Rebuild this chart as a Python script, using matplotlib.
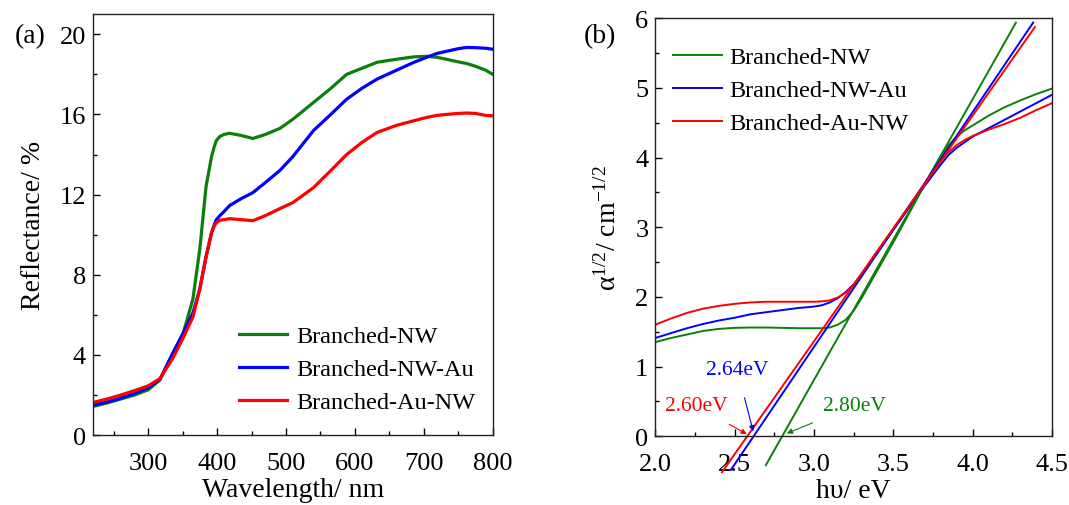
import matplotlib
matplotlib.use('Agg')
import matplotlib.pyplot as plt
from matplotlib.ticker import MultipleLocator

plt.rcParams['font.family'] = ['Liberation Serif', 'DejaVu Serif']
plt.rcParams['mathtext.fontset'] = 'custom'
plt.rcParams['mathtext.rm'] = 'Liberation Serif'
plt.rcParams['mathtext.it'] = 'Liberation Serif:italic'

labels = ['Branched-NW', 'Branched-NW-Au', 'Branched-Au-NW']
colors = ['#0a800a', '#0000ff', '#ff0000']

# (a) reflectance spectra
wl = [220, 240, 260, 280, 300, 317, 336, 351, 365, 375, 384, 392, 396, 399, 404, 410,
      418, 435, 452, 470, 491, 510, 540, 565, 588, 610, 632, 660, 685, 704, 719, 733,
      750, 762, 775, 790, 800]
refl_nw = [1.43, 1.6, 1.8, 2.0, 2.26, 2.75, 4.1, 5.1, 6.8, 9.3, 12.4, 13.9, 14.4,
           14.7, 14.9, 15.0, 15.06, 14.95, 14.8, 15.0, 15.3, 15.76, 16.6, 17.3, 18.0,
           18.3, 18.6, 18.75, 18.87, 18.9, 18.85, 18.75, 18.62, 18.54, 18.4, 18.2, 18.0]
refl_nw_au = [1.5, 1.65, 1.85, 2.08, 2.36, 2.78, 4.1, 5.1, 6.1, 7.3, 8.9, 10.1, 10.5,
              10.75, 10.95, 11.15, 11.45, 11.8, 12.1, 12.6, 13.2, 13.9, 15.2, 16.0,
              16.76, 17.3, 17.76, 18.2, 18.59, 18.85, 19.04, 19.15, 19.28, 19.34,
              19.33, 19.3, 19.25]
refl_au_nw = [1.63, 1.8, 2.0, 2.22, 2.46, 2.82, 3.85, 4.87, 5.9, 7.3, 8.9, 10.1, 10.45,
              10.6, 10.72, 10.75, 10.8, 10.75, 10.7, 10.95, 11.3, 11.6, 12.35, 13.2,
              14.0, 14.6, 15.1, 15.45, 15.68, 15.85, 15.95, 16.0, 16.05, 16.07, 16.05,
              15.95, 15.93]

# (b) Tauc plot
ev = [2.0, 2.1, 2.2, 2.3, 2.4, 2.5, 2.6, 2.7, 2.8, 2.9, 3.0, 3.05, 3.1, 3.15, 3.2,
      3.25, 3.3, 3.4, 3.5, 3.6, 3.7, 3.8, 3.85, 3.9, 3.95, 4.0, 4.1, 4.2, 4.3, 4.4, 4.5]
tauc_nw = [1.35, 1.41, 1.46, 1.51, 1.54, 1.555, 1.56, 1.56, 1.555, 1.55, 1.55, 1.55,
           1.56, 1.6, 1.67, 1.8, 1.98, 2.38, 2.78, 3.2, 3.62, 4.02, 4.18, 4.3, 4.39,
           4.46, 4.6, 4.72, 4.82, 4.91, 4.99]
tauc_nw_au = [1.41, 1.48, 1.55, 1.61, 1.66, 1.7, 1.75, 1.78, 1.81, 1.84, 1.86, 1.88,
              1.92, 1.98, 2.07, 2.18, 2.32, 2.63, 2.96, 3.28, 3.6, 3.9, 4.04, 4.14,
              4.22, 4.3, 4.42, 4.54, 4.66, 4.78, 4.9]
tauc_au_nw = [1.6, 1.69, 1.77, 1.83, 1.87, 1.9, 1.92, 1.93, 1.93, 1.93, 1.93, 1.935,
              1.95, 1.99, 2.06, 2.17, 2.33, 2.66, 2.98, 3.3, 3.62, 3.95, 4.08, 4.18,
              4.25, 4.31, 4.4, 4.48, 4.57, 4.68, 4.78]

# linear fits: (start eV, end eV, slope); band gaps give the x-intercepts
gaps = [2.80, 2.62, 2.58]
gap_text = ['2.80eV', '2.64eV', '2.60eV']
fit_start = [2.697, 2.476, 2.42]
fit_end = [4.273, 4.382, 4.393]
fit_slope = [4.03, 3.37, 3.24]

fig = plt.figure(figsize=(10.69, 5.06), dpi=100)
ax1 = fig.add_axes([0.087, 0.138, 0.374, 0.832])
ax2 = fig.add_axes([0.613, 0.136, 0.371, 0.826])

for y, lab, c in zip([refl_nw, refl_nw_au, refl_au_nw], labels, colors):
    ax1.plot(wl, y, color=c, lw=2.3, label=lab)
ax1.set_xlim(220, 800)
ax1.set_ylim(0, 21)
ax1.xaxis.set_major_locator(MultipleLocator(100))
ax1.xaxis.set_minor_locator(MultipleLocator(50))
ax1.yaxis.set_major_locator(MultipleLocator(4))
ax1.yaxis.set_minor_locator(MultipleLocator(2))
ax1.set_xlabel('Wavelength/ nm', fontsize=20, labelpad=2)
ax1.set_ylabel('Reflectance/ %', fontsize=20, labelpad=10)
ax1.legend(loc='lower right', bbox_to_anchor=(1.01, 0.0), frameon=False, fontsize=17.5,
           handlelength=2.0, handletextpad=0.35, labelspacing=0.45)
fig.text(0.028, 0.928, '(a)', fontsize=20, ha='center', va='center')

for y, lab, c in zip([tauc_nw, tauc_nw_au, tauc_au_nw], labels, colors):
    ax2.plot(ev, y, color=c, lw=1.4, label=lab)
for g, s, e, k, c in zip(gaps, fit_start, fit_end, fit_slope, colors):
    ax2.plot([s, e], [k * (s - g), k * (e - g)], color=c, lw=1.4, clip_on=False)
ax2.set_xlim(2.0, 4.5)
ax2.set_ylim(0, 6)
ax2.xaxis.set_major_locator(MultipleLocator(0.5))
ax2.xaxis.set_minor_locator(MultipleLocator(0.25))
ax2.yaxis.set_major_locator(MultipleLocator(1))
ax2.yaxis.set_minor_locator(MultipleLocator(0.5))
ax2.xaxis.set_major_formatter(lambda v, p: f'{v:.1f}')
ax2.set_xlabel('h\u03c5/ eV', fontsize=20, labelpad=2)
ax2.set_ylabel(r'$\mathrm{\alpha}^{1/2}$/ cm$^{-1/2}$', fontsize=20, labelpad=10)
ax2.legend(loc='upper left', bbox_to_anchor=(-0.01, 0.985), frameon=False, fontsize=17.5,
           handlelength=2.0, handletextpad=0.3, labelspacing=0.45)
fig.text(0.561, 0.928, '(b)', fontsize=20, ha='center', va='center')

ax2.annotate(gap_text[1], xy=(2.617, 0.07), xytext=(2.516, 0.96), color=colors[1],
             fontsize=15.5, ha='center', va='center',
             arrowprops=dict(arrowstyle='-|>', color=colors[1], lw=0.8,
                             shrinkA=12, shrinkB=0, mutation_scale=8))
ax2.annotate(gap_text[2], xy=(2.577, 0.03), xytext=(2.258, 0.435), color=colors[2],
             fontsize=15.5, ha='center', va='center',
             arrowprops=dict(arrowstyle='-|>', color=colors[2], lw=0.8,
                             shrinkA=9, shrinkB=0, mutation_scale=8))
ax2.annotate(gap_text[0], xy=(2.829, 0.04), xytext=(3.253, 0.435), color=colors[0],
             fontsize=15.5, ha='center', va='center',
             arrowprops=dict(arrowstyle='-|>', color=colors[0], lw=0.8,
                             shrinkA=9, shrinkB=0, mutation_scale=8))

for ax in (ax1, ax2):
    ax.tick_params(which='both', direction='in', top=False, right=False, labelsize=19)
    ax.tick_params(which='major', length=5, width=1)
    ax.tick_params(which='minor', length=3, width=1)
    ax.tick_params(axis='x', pad=12)
    ax.tick_params(axis='y', pad=5)
    for sp in ax.spines.values():
        sp.set_linewidth(1.0)
        sp.set_color('#222222')

fig.savefig('out.png', dpi=100)
